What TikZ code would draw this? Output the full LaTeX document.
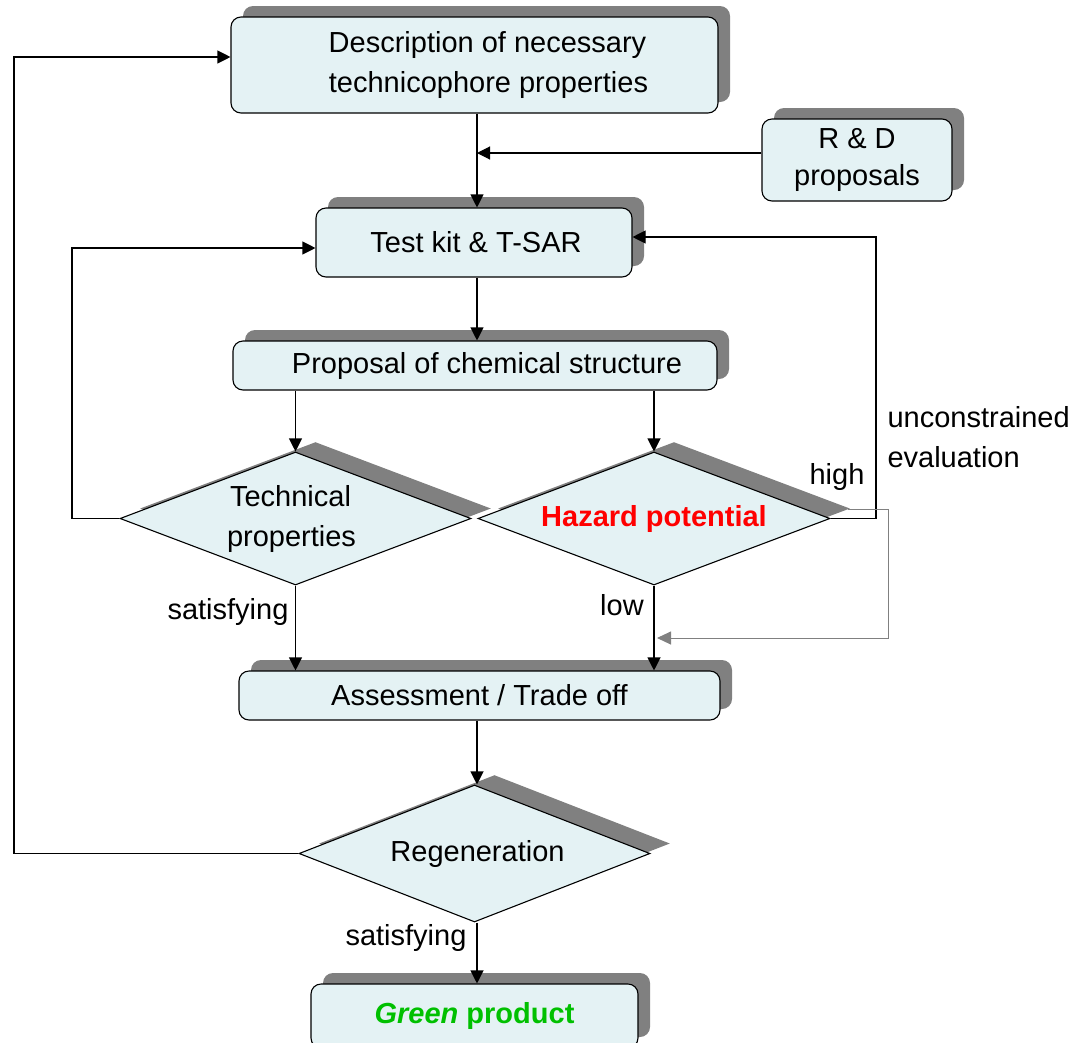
\documentclass[tikz,border=0pt]{standalone}
\usepackage{fontspec}
\setmainfont{Liberation Sans}
\usetikzlibrary{shapes.geometric,shadows,arrows.meta}
\definecolor{boxfill}{HTML}{E4F2F4}
\definecolor{shade}{HTML}{808080}
\definecolor{hazred}{HTML}{FF0000}
\definecolor{greentxt}{HTML}{00C000}
\begin{document}
\begin{tikzpicture}[x=1pt,y=-1pt,line width=1.1pt,
  every node/.style={font=\fontsize{29}{40}\selectfont},
  rbox/.style={draw=black,fill=boxfill,rounded corners=10pt,align=center,inner sep=0pt,
    general shadow={shadow xshift=12pt,shadow yshift=11pt,fill=shade,draw=none}},
  dbox/.style={draw=black,fill=boxfill,shape=diamond,align=center,inner sep=0pt,
    shape aspect=2.64,minimum width=351pt,minimum height=133pt,
    general shadow={shadow xshift=20pt,shadow yshift=10pt,fill=shade,draw=none}},
  arr/.style={-{Triangle[length=13pt,width=13pt]},draw=black},
  garr/.style={-{Triangle[length=14pt,width=13pt]},draw=shade,line width=1pt},
  lbl/.style={inner sep=0pt}]
\useasboundingbox (0,0) rectangle (1079,1042);

% boxes
\node[rbox,minimum width=487pt,minimum height=96pt] (box1) at (474.5,65) {\hspace*{26pt}Description of necessary\\\hspace*{28pt}technicophore properties};
\node[rbox,minimum width=190pt,minimum height=82pt,font=\fontsize{29}{37}\selectfont] (rd) at (857,160) {R \& D\\proposals};
\node[rbox,minimum width=316pt,minimum height=69pt] (tk) at (474,242.5) {\hspace*{4pt}Test kit \& T-SAR};
\node[rbox,minimum width=484pt,minimum height=49pt] (prop) at (475,365.5) {\hspace*{24pt}Proposal of chemical structure};
\node[dbox] (tech) at (295.5,518.5) {Technical\hspace*{10pt}\\properties\hspace*{8pt}};
\node[dbox,minimum width=352pt] (haz) at (654,518.5) {\textcolor{hazred}{\bfseries Hazard potential}};
\node[rbox,minimum width=481pt,minimum height=49pt] (ass) at (479.5,695.5) {Assessment / Trade off};
\node[dbox,shape aspect=2.56,minimum height=137pt] (regen) at (474.5,853.5) {\hspace*{6pt}Regeneration};
\node[rbox,minimum width=327pt,minimum height=64pt] (green) at (474.5,1016) {\textcolor{greentxt}{\bfseries\itshape Green\/}\textcolor{greentxt}{\bfseries\ product}};

% labels
\node[lbl,anchor=west,align=left] (unc) at (887,437) {unconstrained\\evaluation};
\node[lbl] (high) at (837,477) {high};
\node[lbl] (sat1) at (228,612) {satisfying};
\node[lbl] (low) at (622,605) {low};
\node[lbl] (sat2) at (406,938) {satisfying};

% coordinates
\coordinate (L1) at (14,853.5);
\coordinate (L2) at (14,57);
\coordinate (J) at (477,153);
\coordinate (T1) at (72,518.5);
\coordinate (T2) at (72,248);
\coordinate (H1) at (876,518.5);
\coordinate (H2) at (876,237);
\coordinate (G0) at (848,509);
\coordinate (G1) at (888,509);
\coordinate (G2) at (888,638);
\coordinate (G3) at (657,638);

% connectors
\draw[arr] (regen.west) -- (L1) -- (L2) -- (L2 -| box1.west);
\draw[arr] (J |- box1.south) -- (J |- tk.north);
\draw[arr] (rd.west |- J) -- (J);
\draw[arr] (J |- tk.south) -- (J |- prop.north);
\draw[arr] (tech.north |- prop.south) -- (tech.north);
\draw[arr] (haz.north |- prop.south) -- (haz.north);
\draw[arr] (tech.west) -- (T1) -- (T2) -- (T2 -| tk.west);
\draw[arr] (haz.east) -- (H1) -- (H2) -- (H2 -| tk.east);
\draw[garr] (G0) -- (G1) -- (G2) -- (G3);
\draw[arr] (tech.south) -- (tech.south |- ass.north);
\draw[arr] (haz.south) -- (haz.south |- ass.north);
\draw[arr] (J |- ass.south) -- (J |- regen.north);
\draw[arr] (J |- regen.south) -- (J |- green.north);
\end{tikzpicture}
\end{document}
